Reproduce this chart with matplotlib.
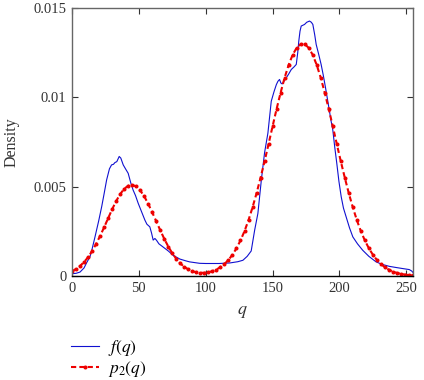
import matplotlib
matplotlib.use("Agg")
import matplotlib.pyplot as plt
from matplotlib.ticker import FixedLocator, FixedFormatter

# Empirical density f(q)
f_q = [0, 3, 6, 9, 11, 13.4, 15, 17.2, 20, 22.2, 24, 25.9, 28, 29.6, 31, 32.1, 33.5,
       35.3, 36.5, 38.3, 40, 42, 44, 45.7, 47.5, 49.5, 52, 54.5, 56, 58.2, 59.5, 60.7,
       62, 63.2, 65, 68, 72, 75.6, 80.6, 85, 88, 95.5, 100, 110, 118, 124, 127.8, 131,
       134, 136.6, 139, 141.6, 144, 146.5, 149, 151, 152.8, 154, 155.2, 156.2, 157.2,
       158.5, 160.2, 162, 164, 166, 167.7, 168.8, 169.6, 170.5, 171.4, 173.9, 175.5,
       177.6, 179, 180.1, 181.5, 182.6, 184.5, 186.3, 188, 189.6, 191.3, 193.8, 195,
       196.5, 198, 199.6, 201.3, 203, 205, 207.5, 210, 213.5, 217.4, 222, 227.4, 232,
       237.3, 242, 247, 252.2, 254, 255]
f_val = [0.00013, 0.00015, 0.00022, 0.00045, 0.00075, 0.00107, 0.0015, 0.00219, 0.0031,
         0.00388, 0.0046, 0.00538, 0.0060, 0.00622, 0.00625, 0.00635, 0.0064, 0.00669,
         0.0066, 0.00622, 0.0060, 0.00575, 0.0052, 0.00481, 0.0045, 0.00407, 0.0036,
         0.00313, 0.0029, 0.00275, 0.0024, 0.00201, 0.0021, 0.0020, 0.0018, 0.00163,
         0.0014, 0.00116, 0.00095, 0.00085, 0.00079, 0.00071, 0.0007, 0.0007, 0.00073,
         0.0008, 0.00088, 0.0011, 0.0014, 0.00257, 0.0035, 0.00538, 0.0069, 0.0080,
         0.00978, 0.0103, 0.01071, 0.0109, 0.0110, 0.0108, 0.01075, 0.0109, 0.01109,
         0.0113, 0.01156, 0.0117, 0.01184, 0.0125, 0.01315, 0.0137, 0.01399, 0.01408,
         0.0142, 0.01427, 0.0142, 0.01408, 0.0135, 0.01296, 0.0124, 0.01184, 0.0112,
         0.01053, 0.00978, 0.00865, 0.00819, 0.0072, 0.00631, 0.0053, 0.00444, 0.0038,
         0.00331, 0.0027, 0.00219, 0.0018, 0.00144, 0.0011, 0.00079, 0.00065, 0.00054,
         0.00048, 0.00042, 0.00036, 0.00028, 0.0002]

# Fitted mixture p2(q)
p_q = list(range(0, 256, 3))
p_val = [0.00027, 0.00039, 0.00056, 0.00078, 0.00105, 0.00139, 0.00179, 0.00224,
         0.00272, 0.00323, 0.00373, 0.00419, 0.00458, 0.00488, 0.00505, 0.00510,
         0.00501, 0.00479, 0.00446, 0.00404, 0.00356, 0.00306, 0.00256, 0.00208,
         0.00165, 0.00127, 0.00096, 0.00070, 0.00051, 0.00037, 0.00027, 0.00021,
         0.00018, 0.00018, 0.00021, 0.00027, 0.00036, 0.00050, 0.00067, 0.00090,
         0.00119, 0.00155, 0.00199, 0.00251, 0.00313, 0.00384, 0.00463, 0.00550,
         0.00642, 0.00739, 0.00838, 0.00935, 0.01026, 0.01110, 0.01181, 0.01238,
         0.01277, 0.01298, 0.01298, 0.01277, 0.01238, 0.01181, 0.01110, 0.01026,
         0.00935, 0.00838, 0.00739, 0.00642, 0.00550, 0.00463, 0.00384, 0.00313,
         0.00251, 0.00199, 0.00155, 0.00119, 0.00090, 0.00067, 0.00049, 0.00035,
         0.00025, 0.00017, 0.00012, 0.00008, 0.00005, 0.00004]

x_ticks = [0, 50, 100, 150, 200, 250]
x_tick_labels = ["0", "50", "100", "150", "200", "250"]
y_ticks = [0, 0.005, 0.01, 0.015]
y_tick_labels = ["0", "0.005", "0.01", "0.015"]

plt.rcParams['font.family'] = ['Liberation Serif', 'DejaVu Serif']
plt.rcParams['mathtext.fontset'] = 'stix'

fig = plt.figure(figsize=(4.24, 3.80), dpi=100)
ax = fig.add_axes([72/424, 1-276/380, (413-72)/424, (276-8)/380])

l1, = ax.plot(f_q, f_val, color='#1010d0', lw=0.8, label=r'$f(q)$')
l2, = ax.plot(p_q, p_val, color='#ee0000', lw=1.5, ls=(0, (2.5, 1.5)), marker='.',
              markersize=3.8, label=r'$p_2(q)$')

ax.set_xlim(0, 255)
ax.set_ylim(0, 0.015)
ax.xaxis.set_major_locator(FixedLocator(x_ticks))
ax.xaxis.set_major_formatter(FixedFormatter(x_tick_labels))
ax.yaxis.set_major_locator(FixedLocator(y_ticks))
ax.yaxis.set_major_formatter(FixedFormatter(y_tick_labels))
ax.tick_params(direction='in', top=True, right=True, labelsize=10.5, length=4,
               width=0.8, colors='#333333', labelcolor='#333333', pad=4)
for s in ['left', 'right', 'top']:
    ax.spines[s].set_color('#666666')
    ax.spines[s].set_linewidth(1.0)
ax.spines['bottom'].set_color('black')
ax.spines['bottom'].set_linewidth(1.0)

ax.set_xlabel(r'$q$', fontsize=13, color='#333333', labelpad=6)
ax.set_ylabel('Density', fontsize=11.5, color='#333333', labelpad=10)

fig.legend(handles=[l1, l2], loc='upper left', bbox_to_anchor=(71/424, 1-338/380),
           frameon=False, fontsize=12.5, handlelength=1.6, handletextpad=0.55,
           labelspacing=0.05, borderaxespad=0, borderpad=0)

fig.savefig('out.png', dpi=100)
